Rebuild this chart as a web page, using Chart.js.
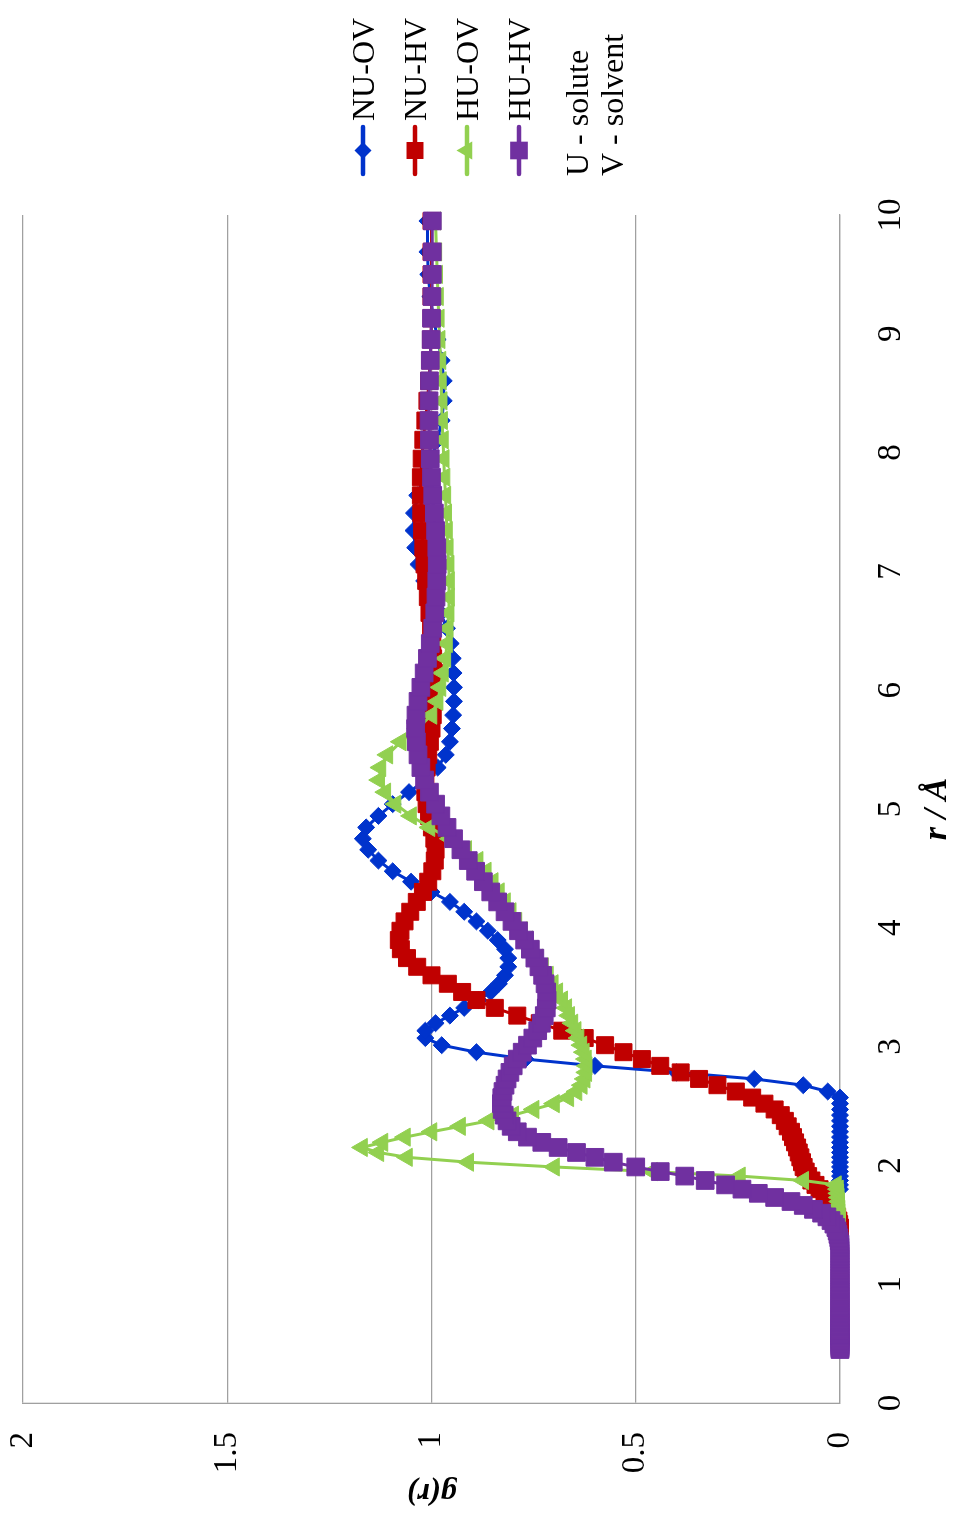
<!DOCTYPE html>
<html lang="en">
<head>
<meta charset="UTF-8" />
<title>g(r) - solute/solvent RDF</title>
<style>
  html, body {
    margin: 0; padding: 0;
    width: 954px; height: 1518px;
    overflow: hidden;
    background: #ffffff;
  }
  /* chart is drawn landscape, then turned a quarter to the left */
  .turned {
    position: absolute;
    left: 0; top: 0;
    width: 1518px; height: 954px;
    transform-origin: 0 0;
    transform: translateY(1518px) rotate(-90deg);
  }
</style>
</head>
<body>
  <div class="turned">
    <canvas id="rdf" width="1518" height="954"></canvas>
  </div>

  <script src="https://cdn.jsdelivr.net/npm/chart.js"></script>
  <script>
    // r grid (Å), shared by all series
    const rValues = [
      0.450,0.459,0.468,0.478,0.487,0.497,0.507,0.517,0.527,0.538,
      0.549,0.560,0.571,0.582,0.594,0.606,0.618,0.630,0.643,0.656,
      0.669,0.682,0.696,0.710,0.724,0.738,0.753,0.768,0.784,0.799,
      0.815,0.832,0.848,0.865,0.883,0.900,0.918,0.937,0.955,0.975,
      0.994,1.014,1.034,1.055,1.076,1.097,1.119,1.142,1.164,1.188,
      1.211,1.236,1.260,1.285,1.311,1.337,1.364,1.391,1.419,1.448,
      1.477,1.506,1.536,1.567,1.598,1.630,1.663,1.696,1.730,1.765,
      1.800,1.836,1.873,1.910,1.948,1.987,2.027,2.068,2.109,2.151,
      2.194,2.238,2.283,2.329,2.375,2.423,2.471,2.520,2.571,2.622,
      2.675,2.728,2.783,2.838,2.895,2.953,3.012,3.072,3.134,3.197,
      3.261,3.326,3.392,3.460,3.529,3.600,3.672,3.745,3.820,3.897,
      3.975,4.054,4.135,4.218,4.302,4.388,4.476,4.566,4.657,4.750,
      4.845,4.942,5.041,5.142,5.244,5.349,5.456,5.566,5.677,5.790,
      5.906,6.024,6.145,6.268,6.393,6.521,6.651,6.784,6.920,7.059,
      7.200,7.344,7.491,7.640,7.793,7.949,8.108,8.270,8.436,8.604,
      8.776,8.952,9.131,9.314,9.500,9.690,9.950
    ];

    // g(r) series; each one covers the last N points of rValues
    const gNUOV = [
      0,0,0,0,0,0,0,0,0,0,
      0,0,0,0,0,0,0,0,0,0.03,
      0.09,0.21,0.4,0.6,0.77,0.89,0.975,1.015,1.015,0.99,
      0.955,0.92,0.885,0.855,0.835,0.82,0.812,0.812,0.82,0.838,
      0.862,0.89,0.92,0.955,1.0,1.05,1.095,1.13,1.155,1.168,
      1.16,1.13,1.095,1.055,1.015,0.985,0.965,0.955,0.95,0.947,
      0.945,0.945,0.946,0.948,0.953,0.962,0.978,0.998,1.018,1.032,
      1.04,1.044,1.043,1.035,1.02,1.0,0.985,0.975,0.97,0.97,
      0.975,0.985,0.995,1.003,1.008,1.01,1.01
    ];
    const gNUHV = [
      0,0.002,0.004,0.007,0.011,0.015,0.019,0.023,0.028,0.038,
      0.05,0.06,0.07,0.078,0.084,0.089,0.093,0.097,0.101,0.105,
      0.11,0.115,0.12,0.128,0.135,0.145,0.16,0.185,0.215,0.255,
      0.3,0.345,0.39,0.44,0.485,0.53,0.575,0.625,0.68,0.735,
      0.79,0.845,0.89,0.925,0.96,1.0,1.035,1.06,1.075,1.08,
      1.076,1.066,1.052,1.036,1.021,1.008,0.998,0.992,0.99,0.993,
      0.999,1.006,1.012,1.015,1.015,1.012,1.008,1.004,1.0,0.997,
      0.995,0.994,0.994,0.996,0.998,1.001,1.005,1.009,1.013,1.017,
      1.02,1.023,1.025,1.026,1.026,1.024,1.02,1.015,1.01,1.006,
      1.003,1.001,1.0,1.0,1.0,1.0,1.0
    ];
    const gHUOV = [
      0,
      0,0,0,0,0.001,0.001,0.002,0.002,0.003,0.004,
      0.005,0.01,0.09,0.245,0.46,0.7,0.91,1.06,1.13,1.17,
      1.12,1.065,1.0,0.93,0.86,0.8,0.75,0.7,0.665,0.645,
      0.632,0.625,0.621,0.62,0.622,0.627,0.633,0.64,0.647,0.655,
      0.663,0.67,0.68,0.692,0.703,0.715,0.727,0.74,0.752,0.765,
      0.778,0.792,0.806,0.82,0.835,0.85,0.867,0.887,0.915,0.955,
      1.005,1.05,1.088,1.113,1.128,1.125,1.108,1.075,1.035,1.0,
      0.985,0.978,0.972,0.966,0.962,0.96,0.958,0.957,0.957,0.958,
      0.96,0.962,0.964,0.966,0.968,0.97,0.972,0.974,0.975,0.977,
      0.978,0.98,0.982,0.984,0.986,0.988,0.99
    ];
    const gHUHV = [
      0,0,0,0,0,0,0,0,0,0,0,0,0,0,
      0,0,0,0,0,0,0,0,0,0,0,0,0,0,
      0,0,0,0,0,0,0,0,0,0,0,0,0,0,
      0,0,0,0,0,0,0,0,0,0,0,0,0,0,
      0.002,0.003,0.005,0.007,0.01,0.015,0.022,0.032,0.045,0.065,
      0.09,0.12,0.16,0.2,0.24,0.28,0.33,0.38,0.44,0.5,
      0.555,0.6,0.645,0.69,0.73,0.765,0.79,0.805,0.815,0.822,
      0.827,0.829,0.828,0.825,0.82,0.815,0.808,0.8,0.79,0.778,
      0.765,0.752,0.74,0.731,0.724,0.719,0.717,0.718,0.722,0.728,
      0.737,0.747,0.758,0.772,0.787,0.803,0.82,0.838,0.855,0.873,
      0.892,0.91,0.928,0.946,0.962,0.977,0.99,1.005,1.017,1.026,
      1.033,1.037,1.039,1.038,1.033,1.026,1.018,1.01,1.003,0.997,
      0.992,0.989,0.987,0.986,0.987,0.99,0.993,0.997,1.0,1.003,
      1.005,1.006,1.006,1.005,1.003,1.001,1.0,0.999,0.998,0.998,
      0.998
    ];

    const seriesNames = ['NU-OV', 'NU-HV', 'HU-OV', 'HU-HV'];
    const legendNotes = ['U - solute', 'V - solvent'];
    const rTicks = [0, 1, 2, 3, 4, 5, 6, 7, 8, 9, 10];
    const gTicks = [0, 0.5, 1, 1.5, 2];

    const FONT = "'Liberation Serif', 'Times New Roman', serif";

    // pair a series with the tail of the r grid
    function pts(g) {
      const off = rValues.length - g.length;
      return g.map((v, i) => ({ x: rValues[off + i], y: v }));
    }

    const styles = [
      { color: '#0033cc', point: 'rectRot',  radius: 8.5, order: 4 },
      { color: '#c00000', point: 'rect',     radius: 12,  order: 3 },
      { color: '#92d050', point: 'triangle', radius: 10.5, order: 2 },
      { color: '#7030a0', point: 'rect',     radius: 12.5, order: 1 }
    ];
    const allSeries = [gNUOV, gNUHV, gHUOV, gHUHV];

    const datasets = allSeries.map((g, i) => ({
      label: seriesNames[i],
      data: pts(g),
      borderColor: styles[i].color,
      backgroundColor: styles[i].color,
      pointBackgroundColor: styles[i].color,
      pointBorderColor: styles[i].color,
      pointBorderWidth: 1,
      pointStyle: styles[i].point,
      pointRadius: styles[i].radius,
      borderWidth: 3,
      tension: 0,
      order: styles[i].order,
      clip: false
    }));

    // small marker painter for the side legend
    function marker(ctx, style, x, y, r) {
      ctx.beginPath();
      if (style === 'rect') {
        const s = r * Math.SQRT1_2;
        ctx.rect(x - s, y - s, 2 * s, 2 * s);
      } else if (style === 'rectRot') {
        ctx.moveTo(x - r, y); ctx.lineTo(x, y - r);
        ctx.lineTo(x + r, y); ctx.lineTo(x, y + r);
        ctx.closePath();
      } else {
        for (let k = 0; k < 3; k++) {
          const a = k * 2 * Math.PI / 3;
          const px = x + Math.sin(a) * r, py = y - Math.cos(a) * r;
          if (k === 0) ctx.moveTo(px, py); else ctx.lineTo(px, py);
        }
        ctx.closePath();
      }
      ctx.fill();
    }

    const sideLegend = {
      id: 'sideLegend',
      afterDraw(chart) {
        const ctx = chart.ctx;
        ctx.save();
        ctx.font = '32px ' + FONT;
        ctx.textBaseline = 'alphabetic';
        ctx.textAlign = 'left';
        seriesNames.forEach((name, i) => {
          const v = 363 + 52 * i;
          const st = styles[i];
          ctx.strokeStyle = st.color;
          ctx.fillStyle = st.color;
          ctx.lineWidth = 4.5;
          ctx.lineCap = 'round';
          ctx.beginPath();
          ctx.moveTo(1344, v);
          ctx.lineTo(1391, v);
          ctx.stroke();
          marker(ctx, st.point, 1367.5, v, st.radius);
          ctx.fillStyle = '#000';
          ctx.fillText(name, 1397, v + 10.5);
        });
        ctx.fillStyle = '#000';
        legendNotes.forEach((t, i) => {
          ctx.fillText(t, 1342, 588 + 35 * i);
        });
        ctx.restore();
      }
    };

    // keep the plot box where the source has it
    function noPad(s) {
      s.paddingTop = 0; s.paddingBottom = 0;
      s.paddingLeft = 0; s.paddingRight = 0;
    }

    new Chart(document.getElementById('rdf'), {
      type: 'line',
      data: { datasets },
      plugins: [sideLegend],
      options: {
        responsive: false,
        animation: false,
        events: [],
        layout: { padding: { left: 0, top: 23, right: 215, bottom: 0 } },
        plugins: {
          legend: { display: false },
          tooltip: { enabled: false }
        },
        scales: {
          x: {
            type: 'linear',
            min: 0, max: 10,
            afterBuildTicks: s => { s.ticks = rTicks.map(v => ({ value: v })); },
            afterFit: s => { s.height = 114; noPad(s); },
            grid: { display: false, drawTicks: false },
            border: { display: true, color: '#a0a0a0', width: 1.3 },
            ticks: {
              color: '#000',
              padding: 32,
              maxRotation: 0,
              callback: v => String(v),
              font: { family: FONT, size: 33 }
            },
            title: {
              display: true,
              text: 'r / Å',
              color: '#000',
              padding: { top: 0, bottom: 0 },
              font: { family: FONT, size: 34, weight: 'bold', style: 'italic', lineHeight: 1 }
            }
          },
          y: {
            type: 'linear',
            min: 0, max: 2,
            afterBuildTicks: s => { s.ticks = gTicks.map(v => ({ value: v })); },
            afterFit: s => { s.width = 115; noPad(s); },
            grid: { color: '#a0a0a0', lineWidth: 1.3, drawTicks: false },
            border: { display: true, color: '#a0a0a0', width: 1.3 },
            ticks: {
              color: '#000',
              padding: 29,
              callback: v => String(v),
              font: { family: FONT, size: 33 }
            },
            title: {
              display: true,
              text: 'g(r)',
              color: '#000',
              padding: { top: 7, bottom: 0 },
              font: { family: FONT, size: 32, weight: 'bold', style: 'italic', lineHeight: 1.2 }
            }
          }
        }
      }
    });
  </script>
</body>
</html>
